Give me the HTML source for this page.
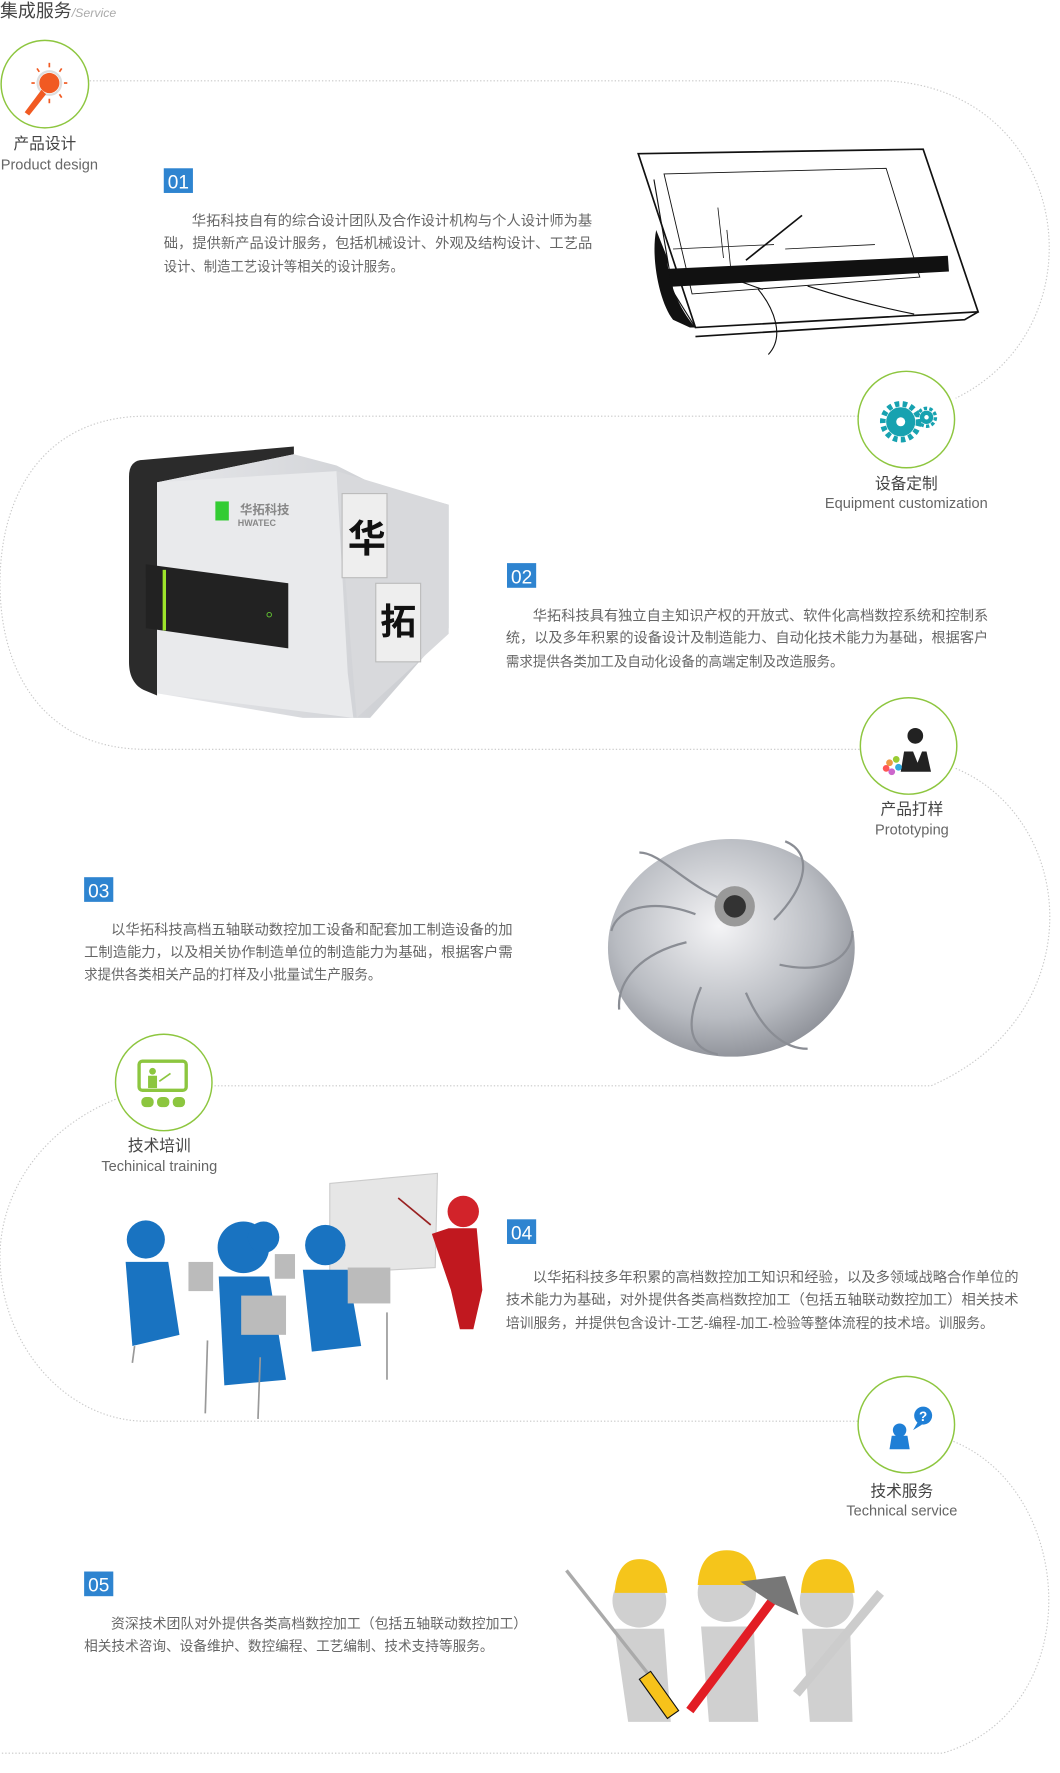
<!DOCTYPE html>
<html><head><meta charset="utf-8"><style>
html,body{margin:0;padding:0;background:#fff;width:1060px;height:1773px;overflow:hidden}
svg{display:block}
text{font-family:"Liberation Sans","Noto Sans CJK SC",sans-serif}
.p{font-size:12.5px;fill:#666}
.cn{font-size:14px;fill:#444;text-anchor:middle}
.en{font-size:13px;fill:#666;text-anchor:middle}
.b{font-size:17px;fill:#fff;text-anchor:middle}
</style></head><body>
<svg width="1060" height="1773" viewBox="0 0 945 1580.6" xmlns="http://www.w3.org/2000/svg">
<defs>
<radialGradient id="imp" cx="0.45" cy="0.4" r="0.7"><stop offset="0" stop-color="#f4f4f6"/><stop offset="0.6" stop-color="#b9bcc2"/><stop offset="1" stop-color="#7d8088"/></radialGradient>
<linearGradient id="mb" x1="0" x2="1"><stop offset="0" stop-color="#e6e7ea"/><stop offset="1" stop-color="#c9cbcf"/></linearGradient>
</defs>
<text x="0" y="15" font-size="16" fill="#444">集成服务<tspan font-size="11" fill="#aaa" font-style="italic">/Service</tspan></text>
<g fill="none" stroke="#c8c8c8" stroke-width="1" stroke-dasharray="1.2 1.8">
<path d="M80,72 H790 C955,80 985,290 852,355"/>
<path d="M765,371 H130 C40,371 0,440 0,520 C0,600 40,668 130,668 H767"/>
<path d="M852,685 C960,730 975,905 830,968 H190"/>
<path d="M103,980 C30,1010 0,1070 0,1120 C0,1200 60,1267 130,1267 H765"/>
<path d="M850,1285 C960,1330 970,1525 840,1563 H0"/>
</g>
<g fill="#fff" stroke="#8dc63f" stroke-width="1.3">
<circle cx="40" cy="75" r="39"/>
<circle cx="808" cy="374" r="43"/>
<circle cx="810" cy="665" r="43"/>
<circle cx="146" cy="965" r="43"/>
<circle cx="808" cy="1270" r="43"/>
</g>
<g>
<circle cx="44" cy="74" r="9" fill="#f15a22"/><circle cx="44" cy="74" r="10.5" fill="none" stroke="#ddd" stroke-width="2"/>
<path d="M37,80 L22,100 L26,103 L41,84Z" fill="#f15a22"/>
<g stroke="#f15a22" stroke-width="1.5"><line x1="44" y1="60" x2="44" y2="56"/><line x1="31" y1="74" x2="28" y2="74"/><line x1="57" y1="74" x2="60" y2="74"/><line x1="35" y1="64" x2="33" y2="61"/><line x1="53" y1="64" x2="55" y2="61"/><line x1="53" y1="84" x2="55" y2="87"/><line x1="44" y1="88" x2="44" y2="92"/></g>
</g>
<g fill="#17a2b0"><circle cx="803" cy="376" r="13"/><circle cx="803" cy="376" r="16" fill="none" stroke="#17a2b0" stroke-width="5" stroke-dasharray="4 3"/><circle cx="803" cy="376" r="4" fill="#fff"/><circle cx="826" cy="372" r="6"/><circle cx="826" cy="372" r="8" fill="none" stroke="#17a2b0" stroke-width="3" stroke-dasharray="3 2"/><circle cx="826" cy="372" r="2" fill="#fff"/></g>
<g><circle cx="816" cy="656" r="7" fill="#222"/><path d="M803,688 L806,670 L826,670 L830,688Z" fill="#222"/><path d="M814,670 L818,680 L822,670Z" fill="#fff"/>
<circle cx="793" cy="680" r="3" fill="#e94"/><circle cx="799" cy="677" r="3" fill="#9c3"/><circle cx="801" cy="684" r="3" fill="#3ad"/><circle cx="795" cy="688" r="3" fill="#c6c"/><circle cx="790" cy="685" r="3" fill="#f55"/></g>
<g fill="#8cc63f"><rect x="124" y="946" width="42" height="26" rx="3" fill="none" stroke="#8cc63f" stroke-width="3"/><circle cx="136" cy="955" r="3"/><rect x="132" y="959" width="8" height="11"/><line x1="142" y1="964" x2="152" y2="957" stroke="#8cc63f" stroke-width="1.5"/><rect x="126" y="978" width="11" height="9" rx="4"/><rect x="140" y="978" width="11" height="9" rx="4"/><rect x="154" y="978" width="11" height="9" rx="4"/></g>
<g fill="#1f7fd6"><circle cx="802" cy="1275" r="6"/><path d="M793,1292 L795,1280 L809,1280 L811,1292Z"/><circle cx="823" cy="1262" r="8"/><path d="M818,1268 L814,1275 L822,1270Z"/><text x="823" y="1267" font-size="12" fill="#fff" text-anchor="middle" font-weight="bold">?</text></g>
<text class="cn" x="40" y="133">产品设计</text><text class="en" x="44" y="151">Product design</text>
<text class="cn" x="808" y="436">设备定制</text><text class="en" x="808" y="453">Equipment customization</text>
<text class="cn" x="813" y="726">产品打样</text><text class="en" x="813" y="744">Prototyping</text>
<text class="cn" x="142" y="1026">技术培训</text><text class="en" x="142" y="1044">Techinical training</text>
<text class="cn" x="804" y="1334">技术服务</text><text class="en" x="804" y="1351">Technical service</text>
<g fill="#2e84d0"><rect x="146" y="150" width="26" height="22"/><rect x="452" y="502" width="26" height="22"/><rect x="75" y="782" width="26" height="22"/><rect x="452" y="1087" width="26" height="22"/><rect x="75" y="1401" width="26" height="22"/></g>
<text class="b" x="159" y="168">01</text><text class="b" x="465" y="520">02</text><text class="b" x="88" y="800">03</text><text class="b" x="465" y="1105">04</text><text class="b" x="88" y="1419">05</text>
<text class="p" x="171" y="201" textLength="357" lengthAdjust="spacingAndGlyphs">华拓科技自有的综合设计团队及合作设计机构与个人设计师为基</text>
<text class="p" x="146" y="221" textLength="382" lengthAdjust="spacingAndGlyphs">础，提供新产品设计服务，包括机械设计、外观及结构设计、工艺品</text>
<text class="p" x="146" y="242" textLength="214" lengthAdjust="spacingAndGlyphs">设计、制造工艺设计等相关的设计服务。</text>
<text class="p" x="475" y="553" textLength="406" lengthAdjust="spacingAndGlyphs">华拓科技具有独立自主知识产权的开放式、软件化高档数控系统和控制系</text>
<text class="p" x="451" y="573" textLength="430" lengthAdjust="spacingAndGlyphs">统，以及多年积累的设备设计及制造能力、自动化技术能力为基础，根据客户</text>
<text class="p" x="451" y="594" textLength="301" lengthAdjust="spacingAndGlyphs">需求提供各类加工及自动化设备的高端定制及改造服务。</text>
<text class="p" x="99" y="833" textLength="358" lengthAdjust="spacingAndGlyphs">以华拓科技高档五轴联动数控加工设备和配套加工制造设备的加</text>
<text class="p" x="75" y="853" textLength="382" lengthAdjust="spacingAndGlyphs">工制造能力，以及相关协作制造单位的制造能力为基础，根据客户需</text>
<text class="p" x="75" y="873" textLength="265" lengthAdjust="spacingAndGlyphs">求提供各类相关产品的打样及小批量试生产服务。</text>
<text class="p" x="475" y="1143" textLength="433" lengthAdjust="spacingAndGlyphs">以华拓科技多年积累的高档数控加工知识和经验，以及多领域战略合作单位的</text>
<text class="p" x="451" y="1163" textLength="457" lengthAdjust="spacingAndGlyphs">技术能力为基础，对外提供各类高档数控加工（包括五轴联动数控加工）相关技术</text>
<text class="p" x="451" y="1184" textLength="435" lengthAdjust="spacingAndGlyphs">培训服务，并提供包含设计-工艺-编程-加工-检验等整体流程的技术培。训服务。</text>
<text class="p" x="99" y="1452" textLength="371" lengthAdjust="spacingAndGlyphs">资深技术团队对外提供各类高档数控加工（包括五轴联动数控加工）</text>
<text class="p" x="75" y="1472" textLength="365" lengthAdjust="spacingAndGlyphs">相关技术咨询、设备维护、数控编程、工艺编制、技术支持等服务。</text>
<g fill="none" stroke="#111" stroke-width="1.5">
<path d="M569,137 L823,133 L872,278 L620,292 Z"/>
<path d="M592,155 L790,150 L820,247 L617,262 Z" stroke-width="0.8"/>
<path d="M583,160 L600,260 L620,292" stroke-width="1"/>
<path d="M640,185 L645,230 M648,205 L652,245 M600,222 L690,218 M700,222 L780,218" stroke-width="0.7"/>
<path d="M620,300 L860,285 L872,278"/>
<path d="M676,258 C690,275 700,300 685,316 M720,255 C760,268 790,275 815,280 M640,245 C660,250 670,255 680,258" stroke-width="1"/>
<path d="M665,232 L715,192"/>
</g>
<path d="M588,240 L845,228 L846,242 L592,256 Z" fill="#111"/>
<path d="M585,205 C580,230 588,270 600,285 L615,292 L620,292 C605,275 595,250 595,230 Z" fill="#111"/>
<g>
<path d="M128,410 L262,398 L262,405 L140,430 L140,620 L128,615 C118,610 115,600 115,590 L115,425 Q115,410 128,410Z" fill="#2b2b2b"/>
<path d="M140,430 L262,405 L300,415 L330,430 L400,450 L400,560 L330,640 L270,640 L140,618 Z" fill="url(#mb)"/>
<path d="M140,430 L300,420 L310,600 L315,640 L140,618Z" fill="#e9eaec"/>
<path d="M300,420 L400,450 L400,565 L318,640 Z" fill="#d8d9dc"/>
<rect x="305" y="440" width="40" height="75" fill="#eee" stroke="#bbb"/>
<rect x="335" y="520" width="40" height="70" fill="#eee" stroke="#bbb"/>
<text x="327" y="492" font-size="34" font-weight="bold" fill="#111" text-anchor="middle">华</text>
<text x="355" y="565" font-size="32" font-weight="bold" fill="#111" text-anchor="middle">拓</text>
<path d="M130,503 L257,520 L257,578 L130,560 Z" fill="#222"/>
<rect x="145" y="508" width="3" height="54" fill="#9de52b"/>
<circle cx="240" cy="548" r="2" fill="none" stroke="#6c3" stroke-width="0.8"/>
<rect x="192" y="447" width="12" height="17" fill="#3c3"/>
<text x="214" y="458" font-size="11" fill="#888" font-weight="bold">华拓科技</text>
<text x="212" y="469" font-size="8" fill="#888" font-weight="bold">HWATEC</text>
</g>
<g>
<ellipse cx="652" cy="845" rx="110" ry="97" fill="url(#imp)"/>
<g stroke="#8a8d94" stroke-width="2" fill="none">
<path d="M652,805 C610,790 590,760 570,760"/><path d="M690,820 C720,790 725,760 700,750"/><path d="M695,860 C740,870 760,850 760,830"/><path d="M665,885 C680,920 700,935 720,935"/><path d="M625,880 C610,915 615,935 640,940"/><path d="M612,840 C570,850 550,875 552,900"/><path d="M620,815 C580,800 550,810 545,830"/>
</g>
<circle cx="655" cy="808" r="18" fill="#999"/><circle cx="655" cy="808" r="10" fill="#333"/>
</g>
<g>
<path d="M294,1055 L390,1046 L388,1130 L294,1135 Z" fill="#e6e6e6" stroke="#ccc"/>
<line x1="355" y1="1068" x2="384" y2="1092" stroke="#922" stroke-width="1.5"/>
<circle cx="413" cy="1080" r="14" fill="#d2232a"/>
<path d="M400,1095 L425,1095 L430,1150 L422,1185 L410,1185 L402,1150 L385,1100Z" fill="#c1181f"/>
<g fill="#1973c1">
<circle cx="130" cy="1105" r="17"/><path d="M112,1125 L150,1125 L160,1190 L118,1200 Z"/>
<circle cx="217" cy="1112" r="23"/><path d="M195,1138 L240,1138 L255,1230 L200,1235 Z"/>
<circle cx="235" cy="1103" r="14"/>
<circle cx="290" cy="1110" r="18"/><path d="M270,1132 L310,1132 L322,1200 L278,1205 Z"/>
</g>
<g fill="#bbb"><rect x="168" y="1125" width="22" height="26"/><rect x="215" y="1155" width="40" height="35"/><rect x="310" y="1130" width="38" height="32"/><rect x="245" y="1118" width="18" height="22"/></g>
<g stroke="#999" stroke-width="1.5"><line x1="120" y1="1200" x2="118" y2="1215"/><line x1="185" y1="1195" x2="183" y2="1260"/><line x1="232" y1="1210" x2="230" y2="1265"/><line x1="345" y1="1170" x2="345" y2="1230"/></g>
</g>
<g>
<g fill="#d0d0d0">
<circle cx="570" cy="1427" r="24"/><path d="M548,1452 L592,1452 L598,1535 L560,1535Z"/>
<circle cx="648" cy="1420" r="26"/><path d="M625,1450 L672,1450 L676,1535 L632,1535Z"/>
<circle cx="737" cy="1427" r="24"/><path d="M715,1452 L758,1452 L760,1535 L722,1535Z"/>
</g>
<g fill="#f5c51b">
<path d="M548,1420 Q550,1390 570,1390 Q592,1390 595,1420Z"/><path d="M622,1413 Q624,1382 648,1382 Q672,1382 675,1413Z"/><path d="M714,1420 Q716,1390 737,1390 Q760,1390 762,1420Z"/>
</g>
<line x1="505" y1="1400" x2="580" y2="1495" stroke="#aaa" stroke-width="3"/>
<path d="M580,1490 L605,1525 L595,1532 L570,1497Z" fill="#f7c21a" stroke="#111"/>
<line x1="615" y1="1525" x2="690" y2="1425" stroke="#e21d24" stroke-width="8"/>
<path d="M660,1410 L700,1405 L712,1440 L690,1430Z" fill="#777"/>
<path d="M710,1510 L785,1420" stroke="#ccc" stroke-width="8"/>
</g>
</svg>
</body></html>
